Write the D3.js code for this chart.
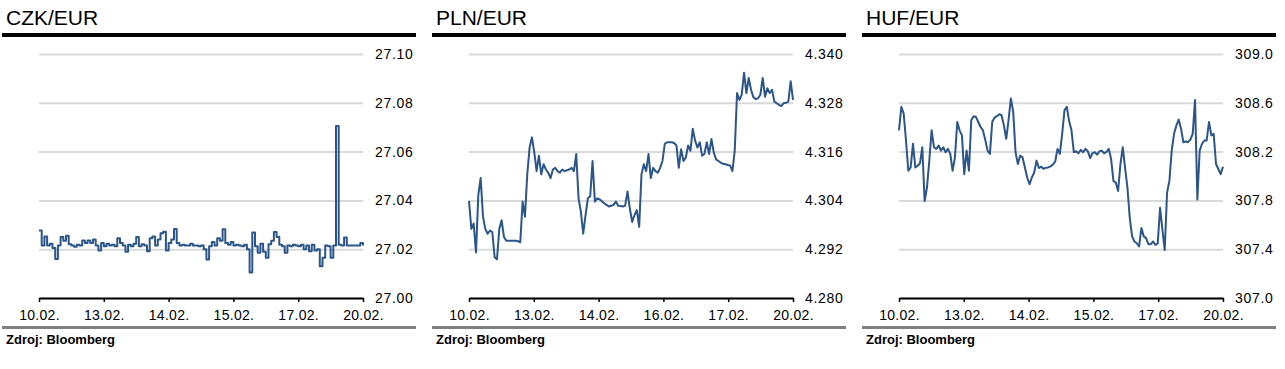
<!DOCTYPE html>
<html>
<head>
<meta charset="utf-8">
<script src="https://cdn.jsdelivr.net/npm/d3@7"></script>
<style>
  body { margin: 0; background: #fff; }
  svg { display: block; font-family: "Liberation Sans", Arial, Helvetica, sans-serif; }
</style>
</head>
<body>
<svg id="chart" width="1285" height="369"></svg>
<script>
// ---- data ----
var titles = ["CZK/EUR", "PLN/EUR", "HUF/EUR"];

var czkDates = ["10.02.", "13.02.", "14.02.", "15.02.", "17.02.", "20.02."];
var plnDates = ["10.02.", "13.02.", "14.02.", "16.02.", "17.02.", "20.02."];
var hufDates = ["10.02.", "13.02.", "14.02.", "15.02.", "17.02.", "20.02."];

var czkTicks = [27.00, 27.02, 27.04, 27.06, 27.08, 27.10];
var plnTicks = [4.280, 4.292, 4.304, 4.316, 4.328, 4.340];
var hufTicks = [307.0, 307.4, 307.8, 308.2, 308.6, 309.0];

var czkValues = [
  27.0277, 27.0215, 27.0252, 27.0215, 27.0222, 27.0205, 27.0160, 27.0215, 27.0250, 27.0235,
  27.0255, 27.0220, 27.0215, 27.0210, 27.0218, 27.0215, 27.0236, 27.0225, 27.0236, 27.0225,
  27.0240, 27.0215, 27.0195, 27.0225, 27.0212, 27.0222, 27.0215, 27.0218, 27.0212, 27.0245,
  27.0225, 27.0215, 27.0190, 27.0218, 27.0212, 27.0222, 27.0250, 27.0212, 27.0220, 27.0215,
  27.0192, 27.0245, 27.0252, 27.0215, 27.0240, 27.0265, 27.0272, 27.0195, 27.0225, 27.0240,
  27.0283, 27.0225, 27.0215, 27.0218, 27.0215, 27.0215, 27.0222, 27.0215, 27.0215, 27.0212,
  27.0215, 27.0200, 27.0158, 27.0212, 27.0230, 27.0215, 27.0245, 27.0235, 27.0282, 27.0225,
  27.0218, 27.0230, 27.0215, 27.0218, 27.0215, 27.0212, 27.0218, 27.0200, 27.0105, 27.0268,
  27.0212, 27.0185, 27.0222, 27.0190, 27.0165, 27.0220, 27.0235, 27.0270, 27.0250, 27.0218,
  27.0212, 27.0185, 27.0215, 27.0212, 27.0218, 27.0215, 27.0212, 27.0218, 27.0200, 27.0215,
  27.0192, 27.0218, 27.0195, 27.0200, 27.0130, 27.0165, 27.0215, 27.0212, 27.0165, 27.0215,
  27.0705, 27.0218, 27.0215, 27.0248, 27.0215, 27.0215, 27.0215, 27.0215, 27.0215, 27.0225,
  27.0215
];

var plnValues = [
  4.3039, 4.2970, 4.2983, 4.2912, 4.3054, 4.3095, 4.3000, 4.2970, 4.2958, 4.2966,
  4.2962, 4.2900, 4.2895, 4.2970, 4.2991, 4.2950, 4.2941, 4.2941, 4.2941, 4.2941,
  4.2941, 4.2940, 4.2937, 4.3037, 4.3000, 4.3104, 4.3170, 4.3195, 4.3158, 4.3112,
  4.3150, 4.3104, 4.3129, 4.3116, 4.3108, 4.3095, 4.3116, 4.3120, 4.3112, 4.3108,
  4.3116, 4.3112, 4.3114, 4.3116, 4.3120, 4.3112, 4.3154, 4.3045, 4.3012, 4.2958,
  4.3004, 4.3045, 4.3050, 4.3137, 4.3037, 4.3045, 4.3043, 4.3038, 4.3033, 4.3029,
  4.3025, 4.3027, 4.3029, 4.3037, 4.3027, 4.3026, 4.3025, 4.3027, 4.3062, 4.3020,
  4.2987, 4.3004, 4.3016, 4.2975, 4.3104, 4.3129, 4.3112, 4.3154, 4.3095, 4.3120,
  4.3112, 4.3108, 4.3120, 4.3137, 4.3179, 4.3183, 4.3183, 4.3183, 4.3181, 4.3175,
  4.3120, 4.3166, 4.3137, 4.3145, 4.3175, 4.3162, 4.3216, 4.3187, 4.3170, 4.3183,
  4.3150, 4.3154, 4.3183, 4.3154, 4.3191, 4.3158, 4.3141, 4.3137, 4.3133, 4.3130,
  4.3129, 4.3127, 4.3126, 4.3112, 4.3162, 4.3304, 4.3287, 4.3300, 4.3354, 4.3304,
  4.3341, 4.3312, 4.3294, 4.3289, 4.3291, 4.3300, 4.3341, 4.3295, 4.3316, 4.3304,
  4.3312, 4.3283, 4.3279, 4.3275, 4.3272, 4.3279, 4.3280, 4.3283, 4.3333, 4.3287
];

var hufValues = [
  308.374, 308.567, 308.512, 308.291, 308.043, 308.070, 308.264, 308.070, 308.084, 308.104,
  308.236, 307.794, 307.905, 308.126, 308.374, 308.236, 308.222, 308.250, 308.208, 308.236,
  308.195, 308.222, 308.181, 308.043, 308.153, 308.443, 308.374, 308.333, 308.015, 308.208,
  308.043, 308.457, 308.490, 308.484, 308.443, 308.402, 308.374, 308.297, 308.208, 308.181,
  308.443, 308.479, 308.490, 308.506, 308.498, 308.415, 308.305, 308.457, 308.636, 308.526,
  308.195, 308.098, 308.167, 308.153, 308.070, 307.988, 307.932, 307.988, 308.029, 308.126,
  308.065, 308.076, 308.059, 308.068, 308.070, 308.079, 308.093, 308.117, 308.222, 308.181,
  308.346, 308.540, 308.567, 308.448, 308.374, 308.195, 308.203, 308.186, 308.214, 308.195,
  308.222, 308.203, 308.148, 308.186, 308.195, 308.175, 308.203, 308.208, 308.186, 308.197,
  308.222, 308.139, 307.960, 307.946, 307.877, 308.098, 308.236, 308.065, 307.905, 307.656,
  307.505, 307.463, 307.449, 307.422, 307.574, 307.505, 307.491, 307.441, 307.441, 307.463,
  307.436, 307.447, 307.739, 307.560, 307.394, 307.863, 307.960, 308.208, 308.346, 308.415,
  308.462, 308.388, 308.277, 308.283, 308.277, 308.299, 308.346, 308.622, 307.808, 308.208,
  308.264, 308.291, 308.291, 308.443, 308.333, 308.346, 308.098, 308.057, 308.015, 308.076
];

var panels = [
  { title: titles[0], dates: czkDates, ticks: czkTicks, values: czkValues, fmt: ".2f", step: true },
  { title: titles[1], dates: plnDates, ticks: plnTicks, values: plnValues, fmt: ".3f", step: false },
  { title: titles[2], dates: hufDates, ticks: hufTicks, values: hufValues, fmt: ".1f", step: false }
];

// ---- layout ----
var panelW = 430,
    plotLeft = 39,
    plotW = 324,
    plotTop = 54,
    plotBottom = 298,
    lineColor = "#2b5689";

var svg = d3.select("#chart");

panels.forEach(function(p, k) {
  var g = svg.append("g").attr("transform", "translate(" + (k * panelW) + ",0)");

  // title + heavy rule
  g.append("text")
    .attr("x", 6).attr("y", 25)
    .style("font-size", "21px")
    .attr("fill", "#000")
    .text(p.title);

  g.append("rect")
    .attr("x", 2).attr("y", 33)
    .attr("width", 414).attr("height", 4)
    .attr("fill", "#000");

  var plot = g.append("g").attr("transform", "translate(" + plotLeft + ",0)");

  var y = d3.scaleLinear()
    .domain(d3.extent(p.ticks))
    .range([plotBottom, plotTop]);

  var xIdx = d3.scaleLinear()
    .domain([0, p.values.length - 1])
    .range([0, plotW]);

  var xLab = d3.scalePoint()
    .domain(p.dates)
    .range([0, plotW]);

  // gridlines + right-hand value labels
  var yAxis = plot.append("g")
    .attr("transform", "translate(" + plotW + ",0)")
    .call(d3.axisRight(y)
      .tickValues(p.ticks)
      .tickSize(-plotW)
      .tickPadding(12)
      .tickFormat(d3.format(p.fmt)));
  yAxis.select(".domain").remove();
  yAxis.selectAll(".tick line").attr("stroke", "#d9d9d9").attr("stroke-width", 2);
  yAxis.selectAll(".tick text")
    .attr("fill", "#000")
    .style("font-size", "14px")
    .style("letter-spacing", "0.7px")
    .style("font-family", "'Liberation Sans', Arial, sans-serif");

  // the series
  var line = d3.line()
    .x(function(d, i) { return xIdx(i); })
    .y(function(d) { return y(d); })
    .curve(p.step ? d3.curveStepAfter : d3.curveLinear);

  plot.append("path")
    .datum(p.values)
    .attr("fill", "none")
    .attr("stroke", lineColor)
    .attr("stroke-width", 2)
    .attr("stroke-linejoin", "round")
    .attr("d", line);

  // bottom date axis
  var xAxis = plot.append("g")
    .attr("transform", "translate(0," + plotBottom + ")")
    .call(d3.axisBottom(xLab).tickSize(4).tickSizeOuter(0).tickPadding(8));
  xAxis.select(".domain").attr("stroke", "#000").attr("stroke-width", 2);
  xAxis.selectAll(".tick line").attr("stroke", "#000").attr("stroke-width", 1.5);
  xAxis.selectAll(".tick text")
    .attr("fill", "#000")
    .style("font-size", "14px")
    .style("letter-spacing", "0.3px")
    .style("font-family", "'Liberation Sans', Arial, sans-serif");

  // source line
  g.append("rect")
    .attr("x", 2).attr("y", 326)
    .attr("width", 414).attr("height", 3)
    .attr("fill", "#808080");

  g.append("text")
    .attr("x", 6).attr("y", 344)
    .style("font-size", "13px")
    .style("font-weight", "bold")
    .attr("fill", "#000")
    .text("Zdroj: Bloomberg");
});
</script>
</body>
</html>
